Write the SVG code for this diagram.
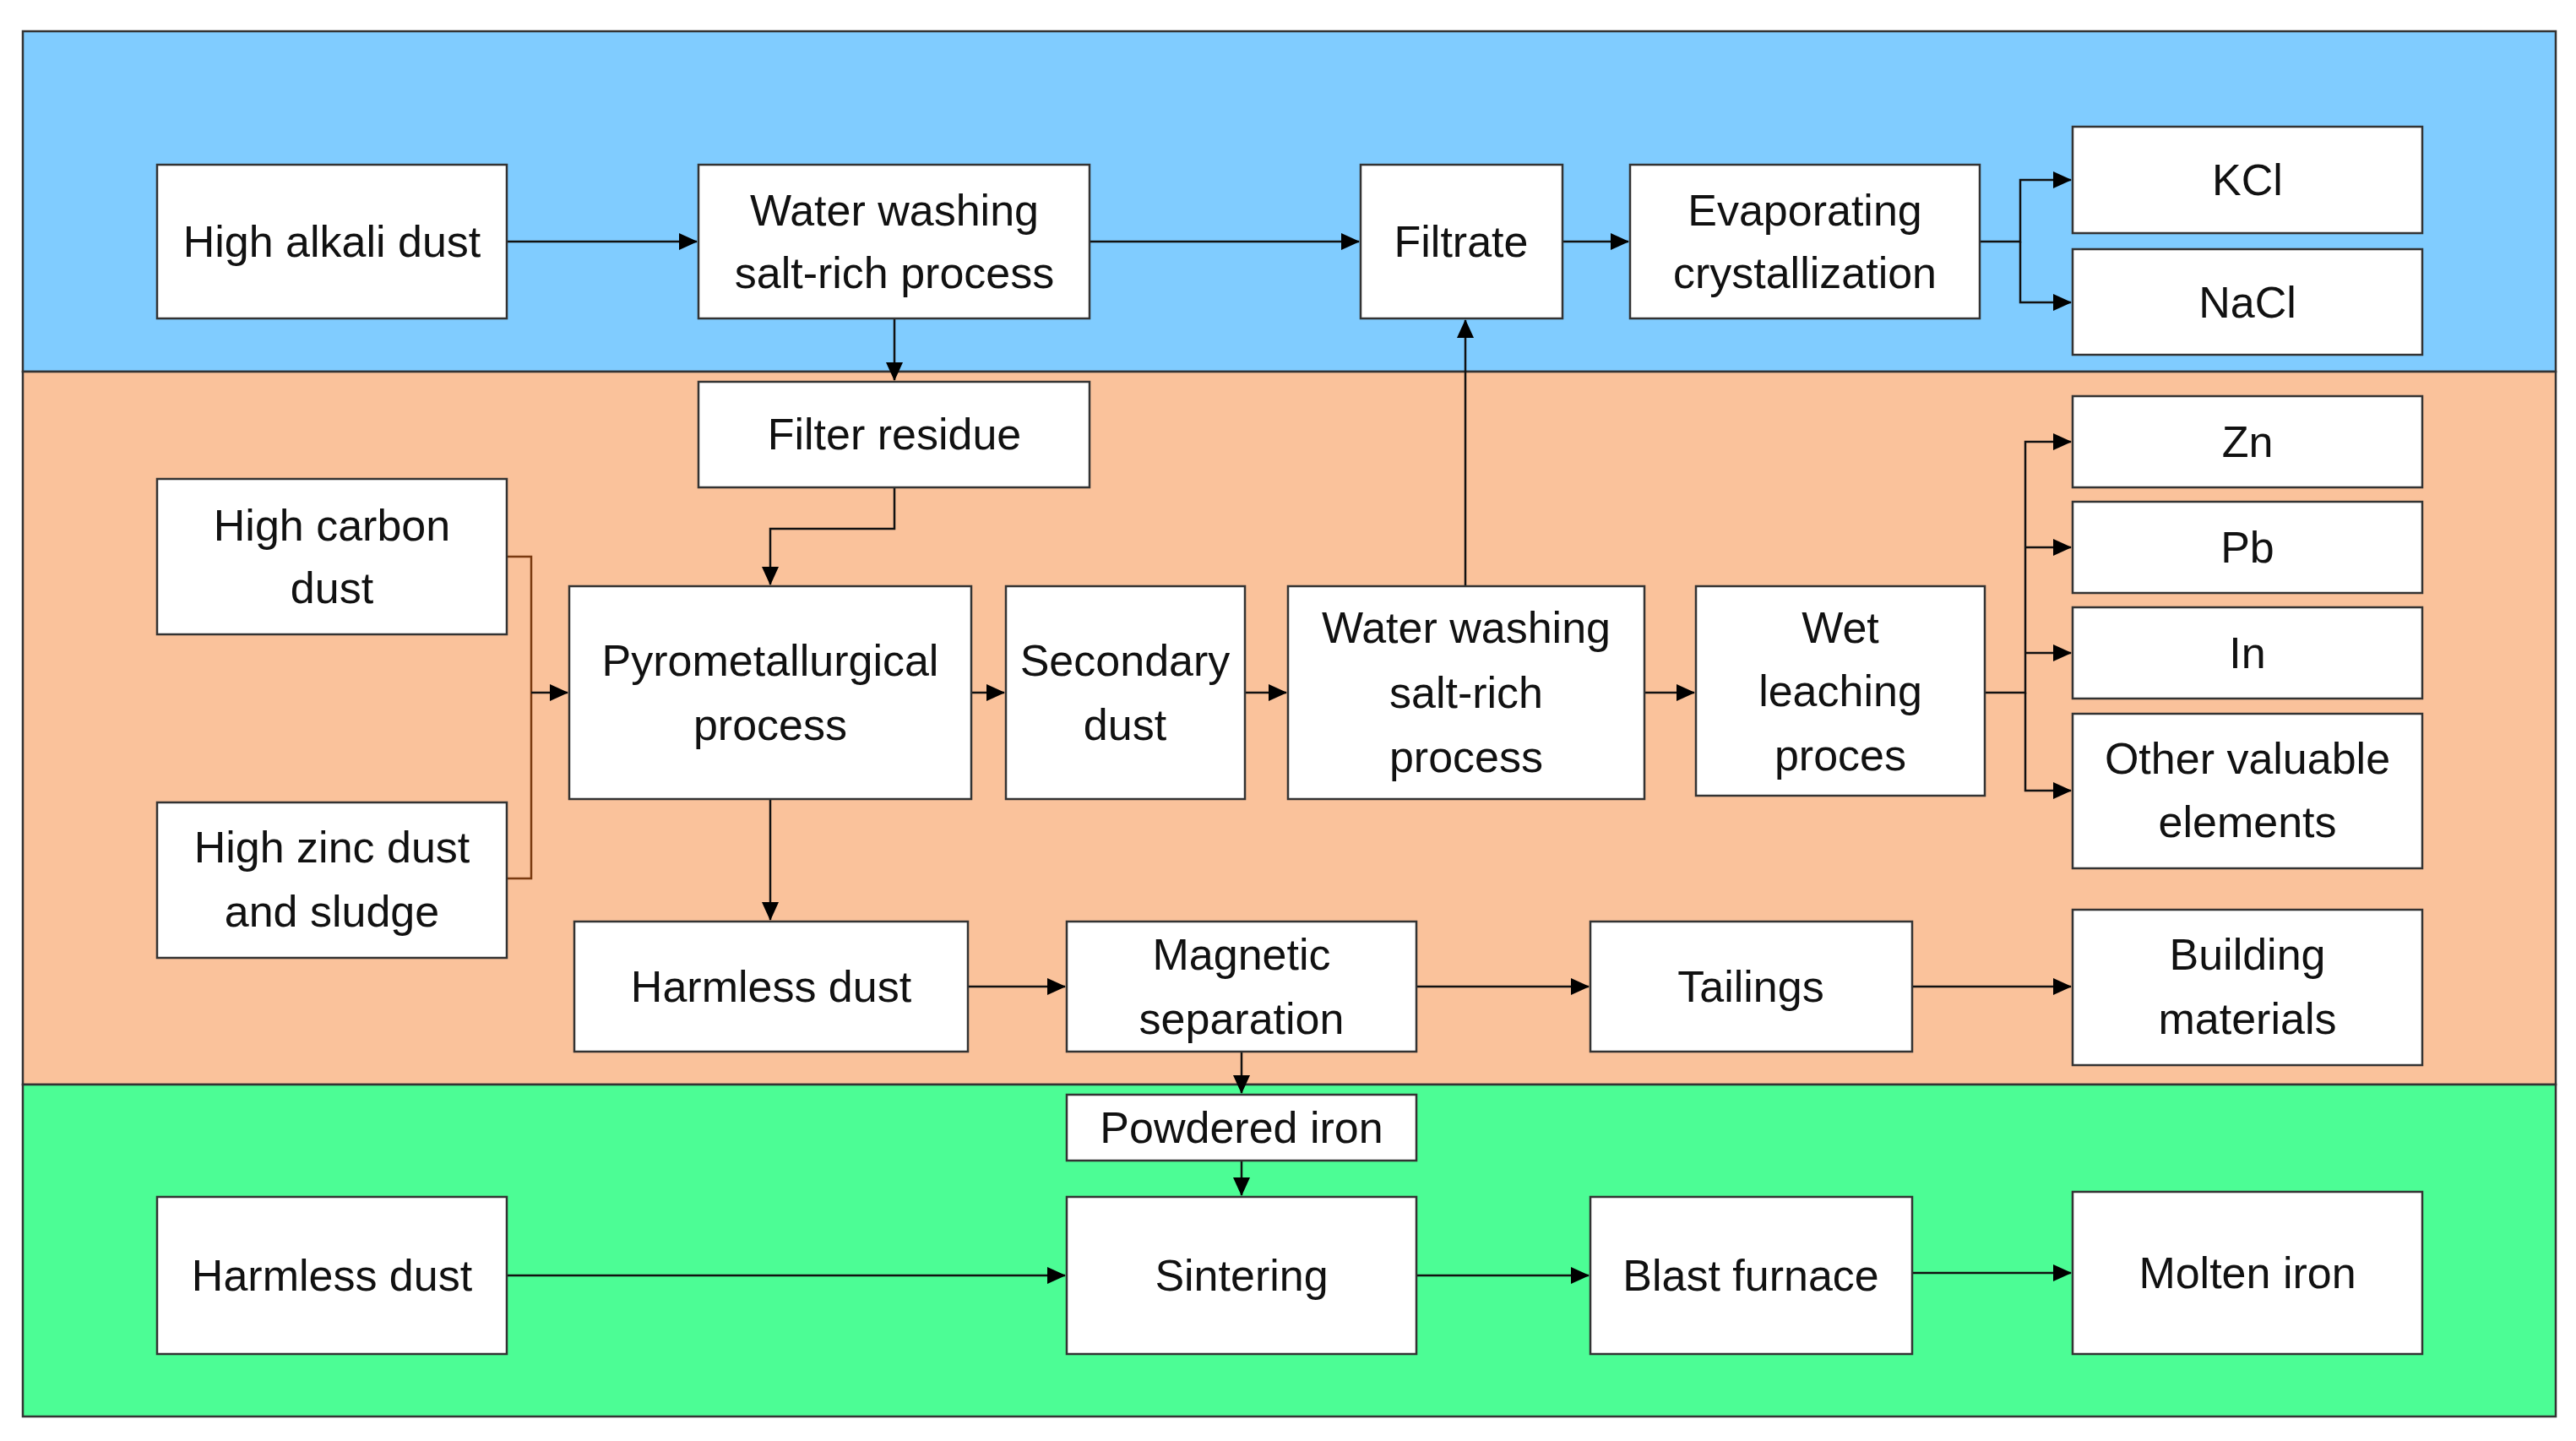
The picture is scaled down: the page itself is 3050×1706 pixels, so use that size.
<svg xmlns="http://www.w3.org/2000/svg" width="3050" height="1706" viewBox="0 0 3050 1706">
<defs>
<marker id="ah" markerWidth="22" markerHeight="20" refX="21" refY="10" orient="auto" markerUnits="userSpaceOnUse" viewBox="0 0 22 20"><path d="M0,0 L22,10 L0,20 z" fill="#000"/></marker>
<style>
.b{fill:#fff;stroke:#333;stroke-width:2.5}
text{font-family:"Liberation Sans",Arial,sans-serif;font-size:52px;fill:#111;text-anchor:middle;dominant-baseline:central}
.c{fill:none;stroke:#111;stroke-width:2.5}
.c path{marker-end:url(#ah)}
</style>
</defs>
<rect width="3050" height="1706" fill="#fff"/>
<rect x="27" y="37" width="2999" height="403" fill="#80CCFF" stroke="#333" stroke-width="2.5"/>
<rect x="27" y="440" width="2999" height="844" fill="#FAC29B" stroke="#333" stroke-width="2.5"/>
<rect x="27" y="1284" width="2999" height="393" fill="#4CFD95" stroke="#333" stroke-width="2.5"/>
<g class="c">
<path d="M600,286H825"/>
<path d="M1290,286H1609"/>
<path d="M1850,286H1928"/>
<path d="M2344,286H2392V213H2452"/>
<path d="M2392,286V358H2452"/>
<path d="M1059,377V450"/>
<path d="M1059,577V626H912V692"/>
<path d="M600,659H629V1040H600" style="marker-end:none;stroke:#7a3a10"/>
<path d="M629,820H672"/>
<path d="M1150,820H1189"/>
<path d="M1474,820H1523"/>
<path d="M1735,694V379"/>
<path d="M1947,820H2006"/>
<path d="M2350,820H2398V523H2452"/>
<path d="M2398,648H2452"/>
<path d="M2398,773H2452"/>
<path d="M2398,820V936H2452"/>
<path d="M912,946V1089"/>
<path d="M1146,1168H1261"/>
<path d="M1677,1168H1881"/>
<path d="M2264,1168H2452"/>
<path d="M1470,1245V1294"/>
<path d="M1470,1374V1415"/>
<path d="M600,1510H1261"/>
<path d="M1677,1510H1881"/>
<path d="M2264,1507H2452"/>
</g>
<g id="n1"><rect class="b" x="186" y="195" width="414" height="182"/><text x="393" y="286">High alkali dust</text></g>
<g id="n2"><rect class="b" x="827" y="195" width="463" height="182"/><text x="1059" y="249">Water washing</text><text x="1059" y="323">salt-rich process</text></g>
<g id="n3"><rect class="b" x="1611" y="195" width="239" height="182"/><text x="1730" y="286">Filtrate</text></g>
<g id="n4"><rect class="b" x="1930" y="195" width="414" height="182"/><text x="2137" y="249">Evaporating</text><text x="2137" y="323">crystallization</text></g>
<g id="n5"><rect class="b" x="2454" y="150" width="414" height="126"/><text x="2661" y="213">KCl</text></g>
<g id="n6"><rect class="b" x="2454" y="295" width="414" height="125"/><text x="2661" y="358">NaCl</text></g>
<g id="n7"><rect class="b" x="827" y="452" width="463" height="125"/><text x="1059" y="514">Filter residue</text></g>
<g id="n8"><rect class="b" x="186" y="567" width="414" height="184"/><text x="393" y="622">High carbon</text><text x="393" y="696">dust</text></g>
<g id="n9"><rect class="b" x="674" y="694" width="476" height="252"/><text x="912" y="782">Pyrometallurgical</text><text x="912" y="858">process</text></g>
<g id="n10"><rect class="b" x="1191" y="694" width="283" height="252"/><text x="1332" y="782">Secondary</text><text x="1332" y="858">dust</text></g>
<g id="n11"><rect class="b" x="1525" y="694" width="422" height="252"/><text x="1736" y="743">Water washing</text><text x="1736" y="820">salt-rich</text><text x="1736" y="896">process</text></g>
<g id="n12"><rect class="b" x="2008" y="694" width="342" height="248"/><text x="2179" y="743">Wet</text><text x="2179" y="818">leaching</text><text x="2179" y="894">proces</text></g>
<g id="n13"><rect class="b" x="2454" y="469" width="414" height="108"/><text x="2661" y="523">Zn</text></g>
<g id="n14"><rect class="b" x="2454" y="594" width="414" height="108"/><text x="2661" y="648">Pb</text></g>
<g id="n15"><rect class="b" x="2454" y="719" width="414" height="108"/><text x="2661" y="773">In</text></g>
<g id="n16"><rect class="b" x="2454" y="845" width="414" height="183"/><text x="2661" y="898">Other valuable</text><text x="2661" y="973">elements</text></g>
<g id="n17"><rect class="b" x="186" y="950" width="414" height="184"/><text x="393" y="1003">High zinc dust</text><text x="393" y="1079">and sludge</text></g>
<g id="n18"><rect class="b" x="680" y="1091" width="466" height="154"/><text x="913" y="1168">Harmless dust</text></g>
<g id="n19"><rect class="b" x="1263" y="1091" width="414" height="154"/><text x="1470" y="1130">Magnetic</text><text x="1470" y="1206">separation</text></g>
<g id="n20"><rect class="b" x="1883" y="1091" width="381" height="154"/><text x="2073" y="1168">Tailings</text></g>
<g id="n21"><rect class="b" x="2454" y="1077" width="414" height="184"/><text x="2661" y="1130">Building</text><text x="2661" y="1206">materials</text></g>
<g id="n22"><rect class="b" x="1263" y="1296" width="414" height="78"/><text x="1470" y="1335">Powdered iron</text></g>
<g id="n23"><rect class="b" x="186" y="1417" width="414" height="186"/><text x="393" y="1510">Harmless dust</text></g>
<g id="n24"><rect class="b" x="1263" y="1417" width="414" height="186"/><text x="1470" y="1510">Sintering</text></g>
<g id="n25"><rect class="b" x="1883" y="1417" width="381" height="186"/><text x="2073" y="1510">Blast furnace</text></g>
<g id="n26"><rect class="b" x="2454" y="1411" width="414" height="192"/><text x="2661" y="1507">Molten iron</text></g>
</svg>
